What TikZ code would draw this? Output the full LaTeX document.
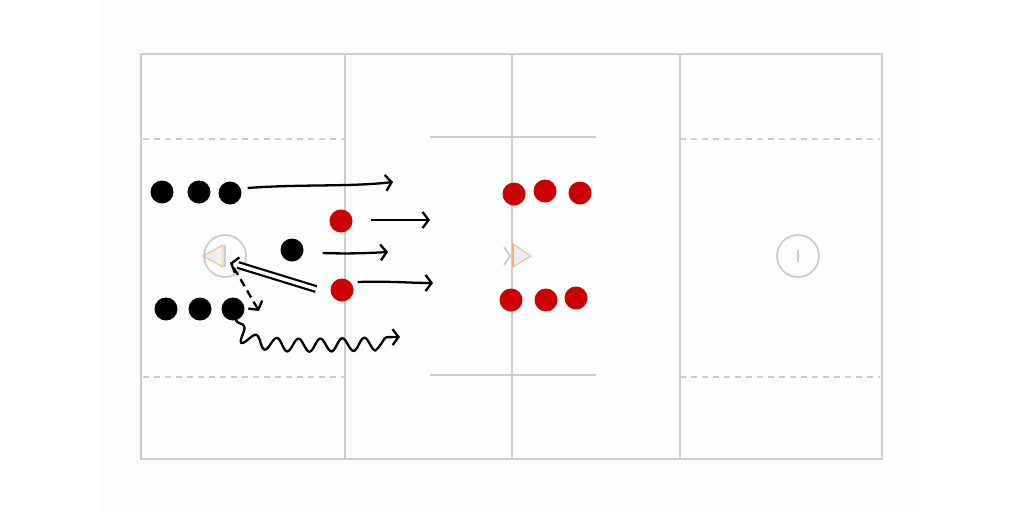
\documentclass[tikz,border=0pt]{standalone}
\usetikzlibrary{arrows.meta,decorations.pathmorphing,calc}
\definecolor{fieldline}{HTML}{CCCCCC}
\definecolor{redteam}{HTML}{CC0000}
\definecolor{goalorange}{HTML}{F5B070}
\definecolor{goalfill}{HTML}{EEEEEE}
\tikzset{
  fline/.style={draw=fieldline,line width=2.2pt},
  fdash/.style={draw=fieldline,line width=1.6pt,dash pattern=on 6pt off 5pt},
  blackp/.style={circle,fill=black,minimum size=23pt,inner sep=0pt},
  redp/.style={circle,fill=redteam,minimum size=23pt,inner sep=0pt},
  crease/.style={draw=fieldline,line width=1.8pt},
  runarrow/.style={line width=2.3pt,-{Straight Barb[length=6pt,width=16pt,line width=2.3pt]}},
  tiponly/.style={line width=2.3pt,-{Straight Barb[length=6pt,width=16pt,line width=2.3pt]}},
}
\begin{document}
\begin{tikzpicture}[x=1pt,y=-1pt]
\useasboundingbox (0,0) rectangle (1024,512);
\fill[black!0.7] (100,0) rectangle (920,512);
% field
\draw[fline,line width=2.6pt] (141,54) rectangle (882,459);
\draw[fline] (345,54) -- (345,459);
\draw[fline] (512,54) -- (512,459);
\draw[fline] (680,54) -- (680,459);
\draw[fdash] (143,139) -- (345,139);
\draw[fdash] (143,377) -- (345,377);
\draw[fdash] (680,139) -- (880,139);
\draw[fdash] (680,377) -- (880,377);
\draw[fline] (430,137) -- (596,137);
\draw[fline] (430,375) -- (596,375);
% left goal
\draw[crease] (225,256) circle (21);
\filldraw[draw=goalorange,fill=goalfill,line width=0.8pt] (223,245) -- (203,256) -- (223,267) -- cycle;
\draw[fieldline,line width=2pt] (225,245) -- (225,267);
% center
\draw[fieldline,line width=1.8pt] (504,247) -- (510,256) -- (504,265);
\filldraw[draw=goalorange,fill=goalfill,line width=0.8pt] (513,244) -- (531,256) -- (513,267) -- cycle;
\draw[goalorange,line width=1.5pt] (513,244) -- (513,267);
% right goal
\draw[crease] (798,256) circle (21);
\draw[fieldline,line width=2pt] (798,250) -- (798,262);
% players
\node[blackp] (b1) at (162,192) {};
\node[blackp] (b2) at (199,192) {};
\node[blackp] (b3) at (230,193) {};
\node[blackp] (b4) at (166,309) {};
\node[blackp] (b5) at (200,309) {};
\node[blackp] (b6) at (233,309) {};
\node[blackp] (b7) at (292,250) {};
\node[redp] (r1) at (341,221) {};
\node[redp] (r2) at (342,290) {};
\node[redp] (r3) at (514,194) {};
\node[redp] (r4) at (545,191) {};
\node[redp] (r5) at (580,193) {};
\node[redp] (r6) at (511,300) {};
\node[redp] (r7) at (546,300) {};
\node[redp] (r8) at (576,298) {};
% arrow targets
\coordinate (e1) at (393,182);
\coordinate (e2) at (430,220);
\coordinate (e3) at (388,252);
\coordinate (e4) at (433,283);
\coordinate (d0) at (316,289);
\coordinate (d1) at (238,265);
\coordinate (dt) at (230,263);
\coordinate (q0) at (234,268);
\coordinate (qt) at (259,311);
\coordinate (w1) at (400,337);
% arrows
\draw[runarrow] ($(b3.east)+(6,-5)$) .. controls (300,184) and (350,187) .. (e1);
\draw[runarrow] ($(r1.east)+(18,-1)$) -- (e2);
\draw[runarrow] ($(b7.east)+(19,3)$) .. controls (350,254) and (370,253) .. (e3);
\draw[runarrow] ($(r2.east)+(4,-8)$) .. controls (390,281) and (410,283) .. (e4);
\draw[line width=2.2pt,double,double distance=3.5pt] (d0) -- (d1);
\draw[tiponly] ($(dt)!0.4pt!(d0)$) -- (dt);
\draw[runarrow,dash pattern=on 8pt off 5pt] (q0) -- (qt);
\draw[runarrow,decorate,decoration={snake,amplitude=6.5pt,segment length=22pt,pre length=2pt,post length=8pt}]
  ($(b6.south)+(3,-2)$) .. controls (238,345) and (300,338) .. (w1);
\end{tikzpicture}
\end{document}
